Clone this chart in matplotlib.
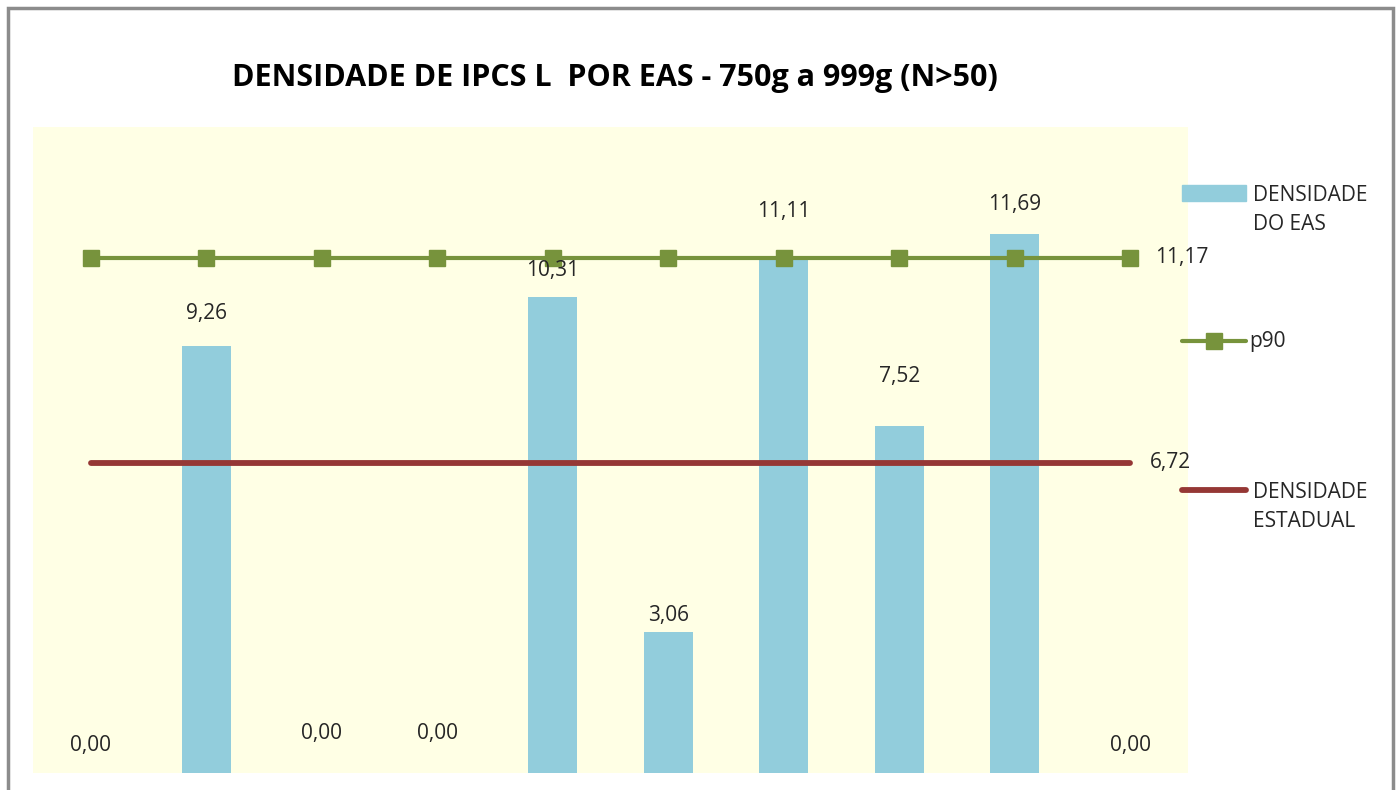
import matplotlib.pyplot as plt
from matplotlib.lines import Line2D
from matplotlib.patches import Rectangle
import numpy as np

plt.rcParams['font.family'] = ['Open Sans', 'DejaVu Sans']

# dados do grafico
eas = list(range(10))
densidade_eas = [0.00, 9.26, 0.00, 0.00, 10.31, 3.06, 11.11, 7.52, 11.69, 0.00]
p90 = [11.17] * 10
densidade_estadual = [6.72] * 10

# deslocamento dos rotulos (px acima da barra), como no Excel
label_offset_px = [28, 32, 40, 40, 27, 16, 49, 50, 29, 28]

bar_color = "#92CDDC"
green = "#77933C"
red = "#953735"
bg = "#FFFFE5"
txt = "#262626"

W, H = 1399, 790
fig = plt.figure(figsize=(W / 100, H / 100), dpi=100)


def fx(px):
    return px / W


def fy(py):
    return 1 - py / H


# area do grafico em pixels
left, right, top, bottom = 33, 1188, 127, 773
ax = fig.add_axes([fx(left), fy(bottom), fx(right - left), (bottom - top) / H])
ax.set_facecolor(bg)

x = np.arange(len(eas))
ax.bar(x, densidade_eas, width=0.42, color=bar_color, zorder=2)
ax.plot(x, p90, color=green, lw=3, marker="s", markersize=11,
        markerfacecolor=green, markeredgecolor=green, zorder=3)
ax.plot(x, densidade_estadual, color=red, lw=4.2, solid_capstyle="round", zorder=3)

ax.set_xlim(-0.5, 9.5)
ax.set_ylim(0, 14)
ax.set_xticks([])
ax.set_yticks([])
for s in ax.spines.values():
    s.set_visible(False)

fs = 15


def fmt(v):
    return f"{v:.2f}".replace(".", ",")


# rotulos
for xi, v, off in zip(x, densidade_eas, label_offset_px):
    ax.annotate(fmt(v), (xi, v), xytext=(0, off * 0.72),
                textcoords="offset points", ha="center", va="center",
                fontsize=fs, color=txt)
ax.annotate(fmt(p90[-1]), (x[-1], p90[-1]), xytext=(37, 0),
            textcoords="offset points", ha="center", va="center",
            fontsize=fs, color=txt, annotation_clip=False)
ax.annotate(fmt(densidade_estadual[-1]), (x[-1], densidade_estadual[-1]),
            xytext=(29, 0), textcoords="offset points", ha="center", va="center",
            fontsize=fs, color=txt, annotation_clip=False)

# titulo
fig.text(fx(615), fy(78), "DENSIDADE DE IPCS L  POR EAS - 750g a 999g (N>50)",
         ha="center", va="center", fontsize=22, fontweight="bold", color="black")

# legenda
fig.add_artist(Rectangle((fx(1182), fy(201)), fx(64), 16 / H,
                         transform=fig.transFigure, color=bar_color))
fig.text(fx(1253), fy(210), "DENSIDADE\nDO EAS", ha="left", va="center",
         fontsize=fs, color=txt, linespacing=1.5)
fig.add_artist(Line2D([fx(1182), fx(1246)], [fy(341), fy(341)], color=green, lw=3,
                      solid_capstyle="round", transform=fig.transFigure))
fig.add_artist(Line2D([fx(1214)], [fy(341)], color=green, marker="s", markersize=11,
                      transform=fig.transFigure))
fig.text(fx(1249), fy(341), "p90", ha="left", va="center", fontsize=fs, color=txt)
fig.add_artist(Line2D([fx(1182), fx(1246)], [fy(490), fy(490)], color=red, lw=4.2,
                      solid_capstyle="round", transform=fig.transFigure))
fig.text(fx(1253), fy(507), "DENSIDADE\nESTADUAL", ha="left", va="center",
         fontsize=fs, color=txt, linespacing=1.5)

# moldura
fig.add_artist(Rectangle((fx(8), -0.1), fx(1393 - 8), fy(8) + 0.1,
                         transform=fig.transFigure, fill=False,
                         edgecolor="#8C8C8C", lw=2.5))

fig.savefig("out.png", dpi=100)
